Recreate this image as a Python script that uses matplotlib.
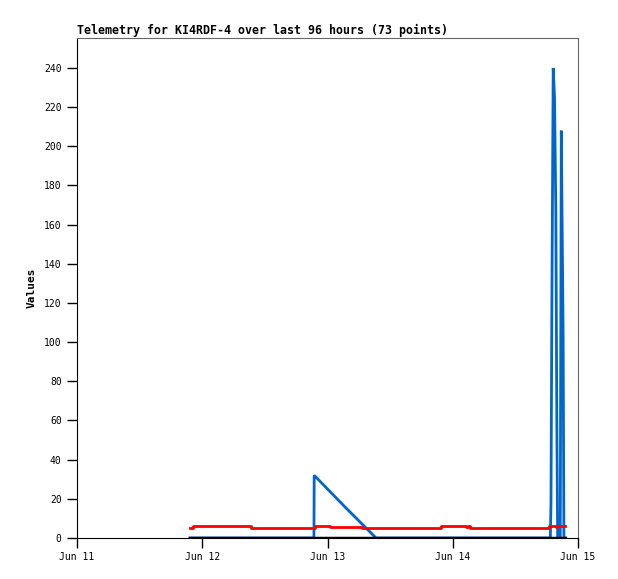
import matplotlib.pyplot as plt

# hours since Jun 11 00:00
red_t = [21.65, 22.2, 33.3, 45.6, 48.5, 54.7, 69.7, 74.6, 74.9, 75.3, 90.4, 91.7, 92.0, 93.5]
red_v = [5, 6, 5, 6, 5.5, 5, 6, 5.5, 6, 5, 6, 5.5, 6, 6]

blue_t = [21.65, 45.4, 45.45, 51.3, 57.3, 90.7, 90.82, 91.0, 91.25, 91.5, 91.75, 91.95, 92.1,
          92.6, 92.8, 93.15, 93.3, 93.5]
blue_v = [0, 0, 32, 16, 0, 0, 17, 121, 240, 225, 168, 56, 0, 0, 208, 104, 0, 0]

black_t = [21.65, 93.6]
black_v = [0, 0]

tick_hours = [0, 24, 48, 72, 96]
tick_labels = ['Jun 11', 'Jun 12', 'Jun 13', 'Jun 14', 'Jun 15']

mono = 'DejaVu Sans Mono'

fig = plt.figure(figsize=(6.18, 5.79), dpi=100)
ax = fig.add_axes([77 / 618, 41 / 579, 501 / 618, 500 / 579])

ax.plot(blue_t, blue_v, color='#0066cc', linewidth=2, solid_joinstyle='bevel')
ax.plot(red_t, red_v, color='#ff0000', linewidth=2, drawstyle='steps-post')
ax.plot(black_t, black_v, color='black', linewidth=2.5)

ax.set_xlim(0, 96)
ax.set_ylim(0, 255.3)
ax.set_xticks(tick_hours)
ax.set_xticklabels(tick_labels, fontfamily=mono, fontsize=7)
ax.set_yticks(range(0, 241, 20))
ax.set_yticklabels([str(v) for v in range(0, 241, 20)], fontfamily=mono, fontsize=7)
ax.tick_params(axis='both', direction='out', length=7, width=1, color='black')
ax.tick_params(axis='x', pad=3)
ax.tick_params(axis='y', pad=4)

for side in ['top', 'right']:
    ax.spines[side].set_color('#666666')
ax.spines['left'].set_color('black')
ax.spines['bottom'].set_color('black')

ax.set_ylabel('Values', fontfamily=mono, fontweight='bold', fontsize=8, labelpad=5)
ax.set_title('Telemetry for KI4RDF-4 over last 96 hours (73 points)', loc='left',
             fontfamily=mono, fontweight='bold', fontsize=8.35, pad=3)

fig.savefig('out.png', dpi=100)
